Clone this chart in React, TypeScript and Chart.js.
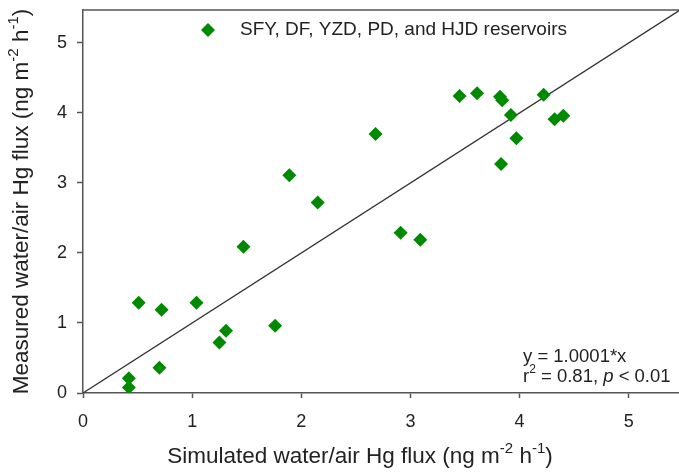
import React, { useEffect, useRef } from "react";
import { Chart, registerables } from "chart.js";

Chart.register(...registerables);

// Simulated (x) vs measured (y) water/air Hg flux, ng m-2 h-1
const simulated = [0.42, 0.42, 0.51, 0.70, 0.72, 1.04, 1.25, 1.31, 1.47, 1.76, 1.89, 2.15, 2.68, 2.91, 3.09, 3.45, 3.61, 3.82, 3.83, 3.84, 3.92, 3.97, 4.22, 4.32, 4.40];
const measured = [0.08, 0.21, 1.29, 0.36, 1.19, 1.29, 0.72, 0.89, 2.09, 0.96, 3.11, 2.72, 3.70, 2.29, 2.19, 4.24, 4.28, 4.23, 3.27, 4.18, 3.97, 3.64, 4.26, 3.91, 3.96];

const fitSlope = 1.0001;
const fitX = [0, 5.5];

const xTicks = [0, 1, 2, 3, 4, 5];
const yTicks = [0, 1, 2, 3, 4, 5];

const seriesLabel = "SFY, DF, YZD, PD, and HJD reservoirs";
const fitLabel = "y = 1.0001*x";

const GREEN = "#008a00";
const AXIS = "#555555";
const TEXT = "#222222";
const FONT = "'Liberation Sans', Arial, sans-serif";

type Part = { t: string; sup?: boolean; it?: boolean };

function drawRich(ctx: CanvasRenderingContext2D, parts: Part[], x: number, y: number, size: number, align: "left" | "center" | "right") {
  const fontFor = (p: Part) => `${p.it ? "italic " : ""}${p.sup ? Math.round(size * 0.65) : size}px ${FONT}`;
  let total = 0;
  for (const p of parts) {
    ctx.font = fontFor(p);
    total += ctx.measureText(p.t).width;
  }
  let cx = align === "left" ? x : align === "center" ? x - total / 2 : x - total;
  ctx.textBaseline = "middle";
  ctx.textAlign = "left";
  for (const p of parts) {
    ctx.font = fontFor(p);
    ctx.fillText(p.t, cx, p.sup ? y - size * 0.38 : y);
    cx += ctx.measureText(p.t).width;
  }
}

const overlay = {
  id: "overlay",
  afterDraw(chart: any) {
    const { ctx, chartArea: a } = chart;
    ctx.save();
    // top frame line
    ctx.strokeStyle = AXIS;
    ctx.lineWidth = 1.5;
    ctx.beginPath();
    ctx.moveTo(a.left, a.top);
    ctx.lineTo(a.right, a.top);
    ctx.stroke();

    ctx.fillStyle = TEXT;
    // x title
    drawRich(ctx, [
      { t: "Simulated water/air Hg flux (ng m" },
      { t: "-2", sup: true },
      { t: " h" },
      { t: "-1", sup: true },
      { t: ")" },
    ], 360, 457, 22.5, "center");

    // y title
    ctx.save();
    ctx.translate(22, (a.top + a.bottom) / 2);
    ctx.rotate(-Math.PI / 2);
    drawRich(ctx, [
      { t: "Measured water/air Hg flux (ng m" },
      { t: "-2", sup: true },
      { t: " h" },
      { t: "-1", sup: true },
      { t: ")" },
    ], 0, 0, 22.5, "center");
    ctx.restore();

    // legend
    const lx = 208, ly = 30, r = 7;
    ctx.fillStyle = GREEN;
    ctx.beginPath();
    ctx.moveTo(lx, ly - r);
    ctx.lineTo(lx + r, ly);
    ctx.lineTo(lx, ly + r);
    ctx.lineTo(lx - r, ly);
    ctx.closePath();
    ctx.fill();
    ctx.fillStyle = TEXT;
    drawRich(ctx, [{ t: seriesLabel }], 240, 30, 19, "left");

    // fit annotation
    drawRich(ctx, [{ t: fitLabel }], 523, 357, 18.5, "left");
    drawRich(ctx, [
      { t: "r" },
      { t: "2", sup: true },
      { t: " = 0.81, " },
      { t: "p", it: true },
      { t: " < 0.01" },
    ], 523, 377, 18.5, "left");
    ctx.restore();
  },
};

export default function App() {
  const ref = useRef<HTMLCanvasElement>(null);

  useEffect(() => {
    if (!ref.current) return;
    const points = simulated.map((x, i) => ({ x, y: measured[i] }));
    const fitLine = fitX.map((x) => ({ x, y: fitSlope * x }));
    const chart = new Chart(ref.current, {
      type: "scatter",
      data: {
        datasets: [
          {
            label: fitLabel,
            data: fitLine,
            type: "line",
            showLine: true,
            borderColor: "#333333",
            borderWidth: 1.3,
            pointRadius: 0,
            fill: false,
            order: 2,
          } as any,
          {
            label: seriesLabel,
            data: points,
            pointStyle: "rectRot",
            pointRadius: 7,
            pointHoverRadius: 7,
            backgroundColor: GREEN,
            borderColor: GREEN,
            borderWidth: 0,
            order: 1,
          },
        ],
      },
      options: {
        responsive: false,
        animation: false,
        layout: { autoPadding: false, padding: { top: 10, right: 0, left: 0, bottom: 0 } },
        plugins: { legend: { display: false }, tooltip: { enabled: false } },
        scales: {
          x: {
            type: "linear",
            min: 0,
            max: 5.46,
            afterFit: (s: any) => { s.height = 80; s.paddingLeft = 0; s.paddingRight = 0; },
            afterBuildTicks: (s: any) => { s.ticks = xTicks.map((v) => ({ value: v })); },
            ticks: { color: TEXT, font: { family: FONT, size: 18 }, padding: 13, includeBounds: false, maxRotation: 0 },
            grid: { drawOnChartArea: false, drawTicks: true, tickLength: 5, tickColor: AXIS, tickWidth: 1.5 },
            border: { display: true, color: AXIS, width: 1.5 },
          },
          y: {
            type: "linear",
            min: 0,
            max: 5.47,
            afterFit: (s: any) => { s.width = 83; s.paddingTop = 0; s.paddingBottom = 0; },
            afterBuildTicks: (s: any) => { s.ticks = yTicks.map((v) => ({ value: v })); },
            ticks: { color: TEXT, font: { family: FONT, size: 18 }, padding: 10, includeBounds: false },
            grid: { drawOnChartArea: false, drawTicks: true, tickLength: 6, tickColor: AXIS, tickWidth: 1.5 },
            border: { display: true, color: AXIS, width: 1.5 },
          },
        },
      },
      plugins: [overlay],
    });
    return () => chart.destroy();
  }, []);

  return (
    <div style={{ position: "absolute", left: 0, top: 0, width: 679, height: 473, background: "#fff" }}>
      <canvas ref={ref} width={679} height={473} />
    </div>
  );
}
